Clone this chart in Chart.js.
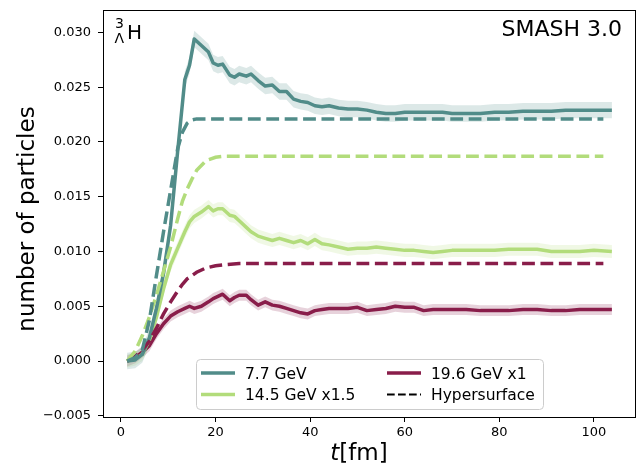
<!DOCTYPE html>
<html>
<head>
<meta charset="utf-8">
<script src="https://cdn.jsdelivr.net/npm/chart.js@4.4.0/dist/chart.umd.min.js"></script>
<style>
  body { margin: 0; background: #fff; }
  #chart { display: block; }
</style>
</head>
<body>
<canvas id="chart" width="641" height="466"></canvas>
<script>
// SMASH curves, time in fm
const tSmash = [1.3, 3, 4.5, 6, 7.5, 9, 10.5, 12, 13.5, 14.5,
  15.5, 17, 18.5, 19.5, 20.5, 21.5, 23, 24, 25, 26.5,
  27.5, 29, 30.5, 32, 33.5, 35, 36.5, 38, 39.5, 41,
  42.5, 44, 46, 48, 50, 52, 54, 56, 58, 60,
  62, 64, 66, 68, 70, 73, 76, 79, 82, 85,
  88, 91, 94, 97, 100, 103.8];

const gev77 = [0, 0.0001, 0.0006, 0.0021, 0.0048, 0.0080, 0.0124, 0.0192, 0.0257, 0.0270,
  0.0294, 0.0288, 0.0282, 0.0272, 0.0270, 0.0271, 0.0261, 0.0259, 0.0262, 0.0260,
  0.0262, 0.0256, 0.0251, 0.0252, 0.0246, 0.0246, 0.0239, 0.0237, 0.0236, 0.0233,
  0.0232, 0.0233, 0.0231, 0.0230, 0.0230, 0.0229, 0.0227, 0.0226, 0.0226, 0.0227,
  0.0227, 0.0227, 0.0227, 0.0227, 0.0226, 0.0226, 0.0226, 0.0227, 0.0227, 0.0228,
  0.0228, 0.0228, 0.0229, 0.0229, 0.0229, 0.0229];

const gev145 = [0, 0.0002, 0.0006, 0.0019, 0.0040, 0.0066, 0.0088, 0.0103, 0.0118, 0.0127,
  0.0132, 0.0136, 0.0141, 0.0137, 0.0139, 0.0139, 0.0133, 0.0132, 0.0128, 0.0122,
  0.0118, 0.0114, 0.0112, 0.0110, 0.0112, 0.0110, 0.0108, 0.0110, 0.0107, 0.0111,
  0.0107, 0.0106, 0.0104, 0.0102, 0.0103, 0.0103, 0.0104, 0.0103, 0.0102, 0.0101,
  0.0101, 0.0100, 0.0099, 0.0100, 0.0101, 0.0101, 0.0101, 0.0101, 0.0102, 0.0102,
  0.0102, 0.0100, 0.0100, 0.0100, 0.0101, 0.0100];

const gev196 = [0, 0.0003, 0.0008, 0.0014, 0.0025, 0.0034, 0.0041, 0.0045, 0.0048, 0.0050,
  0.0048, 0.0050, 0.0054, 0.0057, 0.0059, 0.0061, 0.0055, 0.0058, 0.0060, 0.0060,
  0.0056, 0.0051, 0.0054, 0.0051, 0.0050, 0.0048, 0.0046, 0.0044, 0.0043, 0.0046,
  0.0047, 0.0048, 0.0048, 0.0048, 0.0049, 0.0046, 0.0047, 0.0048, 0.0050, 0.0049,
  0.0049, 0.0046, 0.0047, 0.0047, 0.0047, 0.0047, 0.0046, 0.0046, 0.0046, 0.0047,
  0.0047, 0.0046, 0.0046, 0.0047, 0.0047, 0.0047];

// half width of the error bands
const err77 = 0.00075;
const err145 = 0.0006;
const err196 = 0.0005;

// hypersurface curves
const tHyper = [1.3, 3, 4.5, 6, 7.5, 9, 10.5, 12, 13, 14, 15, 16, 18, 20, 22, 25, 30, 40, 60, 80, 102];
const hyper77 = [0, 0.0003, 0.0010, 0.0037, 0.0078, 0.0118, 0.0156, 0.0194, 0.0209, 0.0217, 0.0220,
  0.0221, 0.0221, 0.0221, 0.0221, 0.0221, 0.0221, 0.0221, 0.0221, 0.0221, 0.0221];
const hyper145 = [0, 0.0009, 0.0023, 0.0040, 0.0060, 0.0082, 0.0104, 0.0130, 0.0146, 0.0157, 0.0166,
  0.0174, 0.0183, 0.0186, 0.0187, 0.0187, 0.0187, 0.0187, 0.0187, 0.0187, 0.0187];
const hyper196 = [0, 0.0004, 0.0010, 0.0018, 0.0030, 0.0043, 0.0054, 0.0064, 0.0070, 0.0075, 0.0078,
  0.0081, 0.0085, 0.0087, 0.0088, 0.0089, 0.0089, 0.0089, 0.0089, 0.0089, 0.0089];

const labels = ["7.7 GeV", "14.5 GeV x1.5", "19.6 GeV x1"];
const hyperLabel = "Hypersurface";

const xTicks = [0, 20, 40, 60, 80, 100];
const yTicks = [-0.005, 0, 0.005, 0.010, 0.015, 0.020, 0.025, 0.030];

const colors = ["#518c89", "#b2dc7b", "#891d4a"];
const bandColors = ["rgba(81,140,137,0.2)", "rgba(178,220,123,0.2)", "rgba(137,29,74,0.2)"];

const font = "'DejaVu Sans'";

function pts(xs, ys, d) {
  return xs.map((x, i) => ({ x: x, y: ys[i] + (d || 0) }));
}

const smash = [gev77, gev145, gev196];
const errs = [err77, err145, err196];
const hyper = [hyper77, hyper145, hyper196];

const datasets = [];
smash.forEach((ys, k) => {
  datasets.push({ data: pts(tSmash, ys, errs[k]), fill: "+1", backgroundColor: bandColors[k],
    borderWidth: 0, pointRadius: 0, order: 3 });
  datasets.push({ data: pts(tSmash, ys, -errs[k]), fill: false, borderWidth: 0, pointRadius: 0, order: 3 });
  datasets.push({ label: labels[k], data: pts(tSmash, ys), borderColor: colors[k], borderWidth: 3.5,
    pointRadius: 0, fill: false, order: 2, borderJoinStyle: "round" });
});
hyper.forEach((ys, k) => {
  datasets.push({ label: hyperLabel, data: pts(tHyper, ys), borderColor: colors[k], borderWidth: 3.5,
    borderDash: [12.8, 5.6], pointRadius: 0, fill: false, order: 1 });
});

// frame, annotations, axis titles and the legend box
const decor = {
  id: "decor",
  afterDraw(chart) {
    const ctx = chart.ctx;
    const a = chart.chartArea;
    ctx.save();
    ctx.strokeStyle = "#000";
    ctx.lineWidth = 1;
    ctx.strokeRect(Math.round(a.left) + 0.5, Math.round(a.top) + 0.5,
      Math.round(a.right - a.left) - 1, Math.round(a.bottom - a.top));

    ctx.fillStyle = "#000";
    ctx.textAlign = "left";
    ctx.textBaseline = "alphabetic";
    ctx.font = "14px " + font;
    ctx.fillText("3", 115, 28);
    ctx.fillText("Λ", 114.5, 43);
    ctx.font = "20px " + font;
    ctx.fillText("H", 127, 39);

    ctx.textAlign = "right";
    ctx.font = "22px " + font;
    ctx.fillText("SMASH 3.0", 622, 36);

    // x title: italic t then [fm]
    ctx.textAlign = "left";
    ctx.font = "italic 23px " + font;
    const wt = ctx.measureText("t").width;
    ctx.font = "23px " + font;
    const wf = ctx.measureText("[fm]").width;
    const x0 = 359 - (wt + wf) / 2;
    ctx.font = "italic 23px " + font;
    ctx.fillText("t", x0, 460);
    ctx.font = "23px " + font;
    ctx.fillText("[fm]", x0 + wt, 460);

    // y title
    ctx.save();
    ctx.translate(34, 219);
    ctx.rotate(-Math.PI / 2);
    ctx.textAlign = "center";
    ctx.fillText("number of particles", 0, 0);
    ctx.restore();

    // legend
    const bx = 196, by = 359, bw = 347, bh = 50;
    ctx.beginPath();
    ctx.roundRect(bx + 0.5, by + 0.5, bw, bh, 4);
    ctx.fillStyle = "rgba(255,255,255,0.8)";
    ctx.fill();
    ctx.strokeStyle = "#cccccc";
    ctx.stroke();

    const items = [
      { text: labels[0], color: colors[0], x: 201, y: 373 },
      { text: labels[1], color: colors[1], x: 201, y: 394.5 },
      { text: labels[2], color: colors[2], x: 387, y: 373 },
      { text: hyperLabel, color: "#000", x: 387, y: 394.5, dash: true }
    ];
    ctx.font = "15.5px " + font;
    ctx.textAlign = "left";
    ctx.textBaseline = "alphabetic";
    items.forEach(it => {
      ctx.beginPath();
      ctx.strokeStyle = it.color;
      ctx.lineWidth = it.dash ? 2 : 3.5;
      ctx.setLineDash(it.dash ? [7.7, 3.3] : []);
      ctx.moveTo(it.x, it.y);
      ctx.lineTo(it.x + 34, it.y);
      ctx.stroke();
      ctx.setLineDash([]);
      ctx.fillStyle = "#000";
      ctx.fillText(it.text, it.x + 44, it.y + 5.5);
    });
    ctx.restore();
  }
};

new Chart(document.getElementById("chart"), {
  type: "line",
  data: { datasets: datasets },
  options: {
    responsive: false,
    animation: false,
    layout: { padding: { top: 10, right: 5, left: 0, bottom: 0 } },
    plugins: { legend: { display: false }, tooltip: { enabled: false } },
    scales: {
      x: {
        type: "linear",
        min: -3.8,
        max: 108.9,
        afterBuildTicks: s => { s.ticks = xTicks.map(v => ({ value: v })); },
        afterFit: s => { s.height = 49; s.paddingLeft = 0; s.paddingRight = 0; },
        ticks: { color: "#000", font: { family: font, size: 13 }, padding: 3,
          autoSkip: false, maxRotation: 0, callback: v => String(v) },
        grid: { drawOnChartArea: false, drawTicks: true, tickLength: 5, tickColor: "#000" },
        border: { display: false }
      },
      y: {
        min: -0.00511,
        max: 0.03204,
        afterBuildTicks: s => { s.ticks = yTicks.map(v => ({ value: v })); },
        afterFit: s => { s.width = 103; s.paddingTop = 0; s.paddingBottom = 0; },
        ticks: { color: "#000", font: { family: font, size: 13 }, padding: 7, autoSkip: false,
          callback: v => (v < 0 ? "\u2212" : "") + Math.abs(v).toFixed(3) },
        grid: { drawOnChartArea: false, drawTicks: true, tickLength: 5, tickColor: "#000" },
        border: { display: false }
      }
    }
  },
  plugins: [decor]
});
</script>
</body>
</html>
